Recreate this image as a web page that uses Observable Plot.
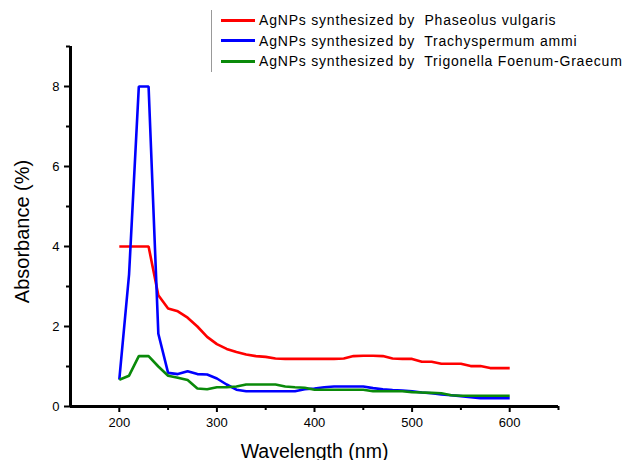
<!DOCTYPE html>
<html>
<head>
<meta charset="utf-8">
<script src="https://cdn.jsdelivr.net/npm/d3@7"></script>
<script src="https://cdn.jsdelivr.net/npm/@observablehq/plot@0.6"></script>
<style>
  html, body { margin: 0; padding: 0; background: #fff; }
  #wrap { position: relative; width: 628px; height: 460px; overflow: hidden; font-family: "Liberation Sans", Arial, sans-serif; }
  #legend { position: absolute; left: 211px; top: 10px; border-left: 1px solid #999; padding: 0 0 0 9px; }
  .row { display: flex; align-items: center; height: 20.5px; font-size: 14px; letter-spacing: 0.8px; color: #000; white-space: pre; }
  .sw { width: 34px; height: 3px; margin-right: 4px; }
</style>
</head>
<body>
<div id="wrap"><div id="legend"></div></div>
<script>
const wavelength = [200,210,220,230,240,250,260,270,280,290,300,310,320,330,340,350,360,370,380,390,400,
                    410,420,430,440,450,460,470,480,490,500,510,520,530,540,550,560,570,580,590,600];
const phaseolus = [4.0,4.0,4.0,4.0,2.78,2.45,2.38,2.22,2.0,1.74,1.56,1.44,1.36,1.3,1.26,1.24,1.2,1.19,1.19,1.19,1.19,
                   1.19,1.19,1.2,1.26,1.27,1.27,1.26,1.2,1.19,1.19,1.12,1.12,1.07,1.07,1.07,1.01,1.01,0.96,0.96,0.96];
const trachyspermum = [0.67,3.3,8.0,8.0,1.82,0.84,0.81,0.88,0.81,0.8,0.7,0.55,0.42,0.38,0.38,0.38,0.38,0.38,0.38,0.43,0.45,
                       0.48,0.5,0.5,0.5,0.5,0.46,0.43,0.41,0.4,0.38,0.35,0.33,0.3,0.28,0.26,0.23,0.21,0.21,0.21,0.21];
const trigonella = [0.67,0.77,1.26,1.26,1.0,0.77,0.72,0.66,0.45,0.43,0.48,0.48,0.5,0.55,0.55,0.55,0.55,0.5,0.48,0.47,0.42,
                    0.42,0.42,0.42,0.42,0.42,0.38,0.38,0.38,0.38,0.36,0.35,0.34,0.33,0.28,0.27,0.27,0.27,0.27,0.27,0.27];

const seriesNames = [
  "AgNPs synthesized by  Phaseolus vulgaris",
  "AgNPs synthesized by  Trachyspermum ammi",
  "AgNPs synthesized by  Trigonella Foenum-Graecum"
];
const seriesColors = ["#ff0000", "#0000ff", "#0a8a0a"];
const seriesValues = [phaseolus, trachyspermum, trigonella];

const xMajor = [200, 300, 400, 500, 600];
const xMinor = [250, 350, 450, 550, 650];
const yMajor = [0, 2, 4, 6, 8];
const yMinor = [1, 3, 5, 7, 9];
const xLabel = "Wavelength (nm)";
const yLabel = "Absorbance (%)";

const data = [];
seriesNames.forEach((name, i) => {
  wavelength.forEach((w, j) => data.push({series: name, x: w, y: seriesValues[i][j]}));
});

const chart = Plot.plot({
  width: 628,
  height: 460,
  marginLeft: 70,
  marginRight: 70,
  marginTop: 46,
  marginBottom: 54,
  style: {fontFamily: "Liberation Sans, Arial, sans-serif", fontSize: "13px", color: "#000", background: "#fff", overflow: "visible"},
  x: {domain: [150, 650]},
  y: {domain: [0, 9]},
  color: {domain: seriesNames, range: seriesColors},
  marks: [
    Plot.line(data, {x: "x", y: "y", z: "series", stroke: "series", strokeWidth: 2.6, strokeLinejoin: "miter", strokeLinecap: "butt"}),
    Plot.axisX({ticks: xMajor, tickSize: 6, tickPadding: 5, strokeWidth: 2, label: null, fontSize: 13}),
    Plot.axisX({ticks: xMinor, tickSize: 4, strokeWidth: 2, text: null, label: null}),
    Plot.axisY({ticks: yMajor, tickSize: 6, tickPadding: 5, strokeWidth: 2, label: null, fontSize: 13}),
    Plot.axisY({ticks: yMinor, tickSize: 4, strokeWidth: 2, text: null, label: null}),
    Plot.ruleY([0], {stroke: "#000", strokeWidth: 3}),
    Plot.ruleX([150], {stroke: "#000", strokeWidth: 3}),
    Plot.text([xLabel], {frameAnchor: "bottom", dy: 51, fontSize: 19.5, fill: "#000"}),
    Plot.text([yLabel], {frameAnchor: "left", textAnchor: "middle", dx: -48, dy: 5, rotate: -90, fontSize: 20, fill: "#000"})
  ]
});

document.getElementById("wrap").prepend(chart);

const legend = document.getElementById("legend");
seriesNames.forEach((name, i) => {
  const row = document.createElement("div");
  row.className = "row";
  const sw = document.createElement("span");
  sw.className = "sw";
  sw.style.background = seriesColors[i];
  sw.style.height = i === 1 ? "3px" : "2.5px";
  const t = document.createElement("span");
  t.textContent = name;
  row.appendChild(sw);
  row.appendChild(t);
  legend.appendChild(row);
});
</script>
</body>
</html>
